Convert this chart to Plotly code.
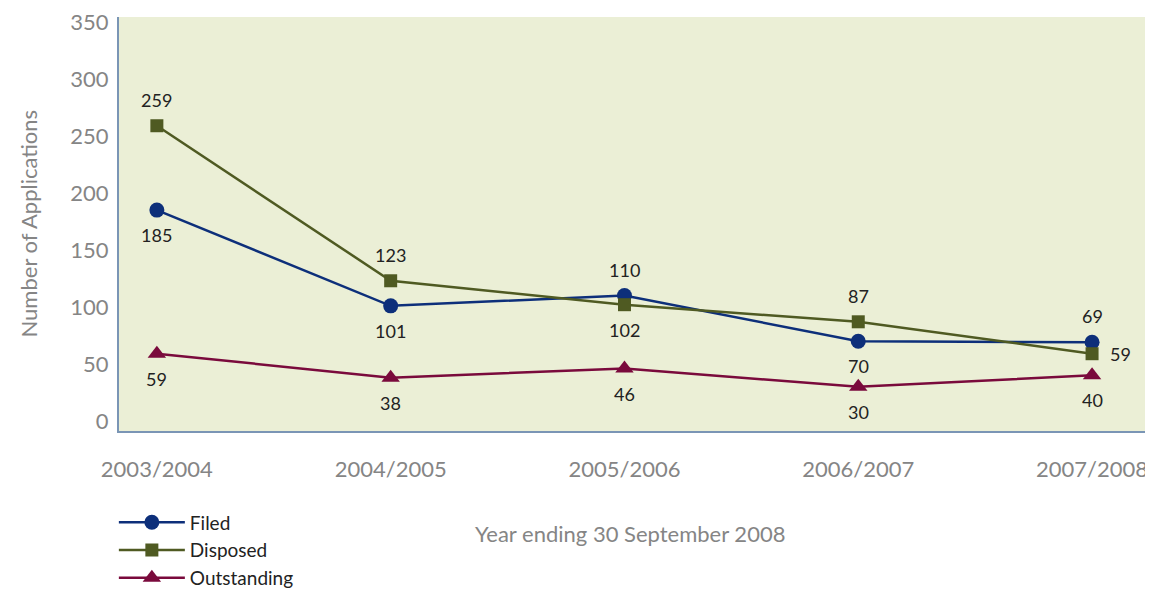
import plotly.graph_objects as go

years = ["2003/2004", "2004/2005", "2005/2006", "2006/2007", "2007/2008"]
filed = [185, 101, 110, 70, 69]
disposed = [259, 123, 102, 87, 59]
outstanding = [59, 38, 46, 30, 40]

# label placement relative to each point: "above", "below" or "right"
filed_pos = ["below", "below", "above", "below", "above"]
disposed_pos = ["above", "above", "below", "above", "right"]
outstanding_pos = ["below", "below", "below", "below", "below"]

x = list(range(len(years)))
lab_font = dict(family="Lato, sans-serif", size=18, color="#222222")
grey = "#858585"

fig = go.Figure()
series = [
    ("Filed", filed, filed_pos, "#0D2F7A", "circle", 15),
    ("Disposed", disposed, disposed_pos, "#4F5A22", "square", 13),
    ("Outstanding", outstanding, outstanding_pos, "#7A0A3C", "triangle-up", 16),
]
shifts = {"above": (0, 26), "below": (0, -25), "right": (28, 0)}
for name, vals, pos, col, sym, sz in series:
    fig.add_trace(go.Scatter(
        x=x, y=vals, name=name, mode="lines+markers",
        line=dict(color=col, width=2.5),
        marker=dict(symbol=sym, size=sz, color=col),
        cliponaxis=False,
    ))
    for xi, v, p in zip(x, vals, pos):
        dx, dy = shifts[p]
        fig.add_annotation(x=xi, y=v, text=str(v), showarrow=False,
                           xshift=dx, yshift=dy, font=lab_font,
                           xanchor="center", yanchor="middle")

fig.add_annotation(text="Number of Applications", textangle=-90,
                   xref="paper", yref="paper", x=-0.089, y=0.5,
                   xanchor="center", yanchor="middle", showarrow=False,
                   font=dict(size=22, color=grey))
fig.add_annotation(text="Year ending 30 September 2008",
                   xref="paper", yref="paper", x=0.497, y=-0.247,
                   xanchor="center", yanchor="middle", showarrow=False,
                   font=dict(size=22, color=grey))

# page body adds an 8px offset, so the figure is sized/positioned to compensate
fig.update_layout(
    width=1145, height=581,
    margin=dict(l=111, r=6, t=9, b=158, autoexpand=False),
    paper_bgcolor="white", plot_bgcolor="#EBEFD6",
    font=dict(family="Lato, sans-serif", color=grey),
    showlegend=True,
    legend=dict(x=-0.005, y=-0.175, xanchor="left", yanchor="top",
                font=dict(size=19, color="#222222"), bgcolor="rgba(0,0,0,0)",
                itemwidth=66, tracegroupgap=0),
    xaxis=dict(
        tickmode="array", tickvals=x, ticktext=years,
        range=[-0.162, 4.235], showgrid=False, zeroline=False,
        showline=True, linecolor="#7A95B5", linewidth=2,
        ticks="", tickfont=dict(size=22, color=grey),
        ticklabelstandoff=18, automargin=False, ticklabeloverflow="allow",
    ),
    yaxis=dict(
        range=[-8.8, 354.4], tickvals=[0, 50, 100, 150, 200, 250, 300, 350],
        showgrid=False, zeroline=False,
        showline=True, linecolor="#7A95B5", linewidth=2,
        ticks="", tickfont=dict(size=22, color=grey),
        ticklabelstandoff=4, automargin=False, ticklabeloverflow="allow",
    ),
)

fig.write_html("out.html")
